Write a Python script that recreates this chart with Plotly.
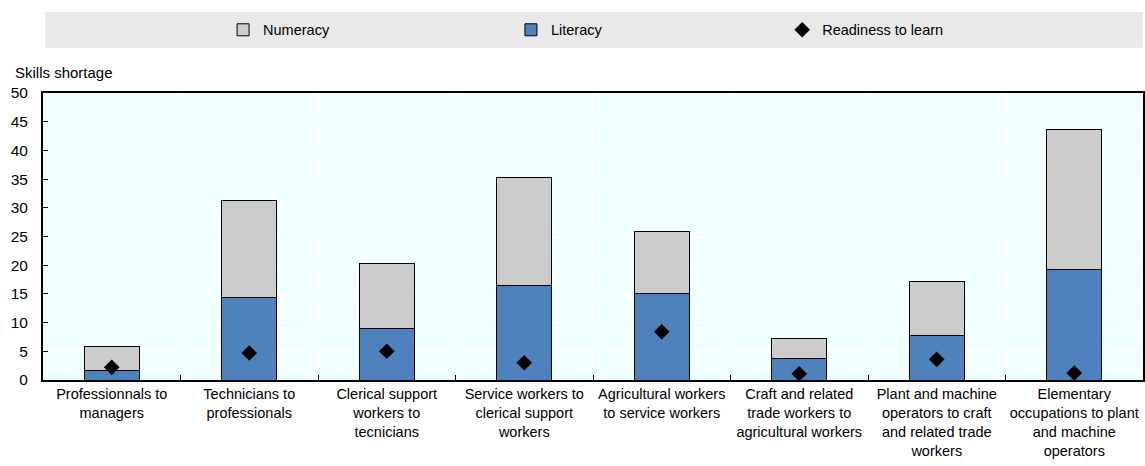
import plotly.graph_objects as go

categories = [
    "Professionnals to<br>managers",
    "Technicians to<br>professionals",
    "Clerical support<br>workers to<br>tecnicians",
    "Service workers to<br>clerical support<br>workers",
    "Agricultural workers<br>to service workers",
    "Craft and related<br>trade workers to<br>agricultural workers",
    "Plant and machine<br>operators to craft<br>and related trade<br>workers",
    "Elementary<br>occupations to plant<br>and machine<br>operators",
]
literacy = [1.6, 14.3, 9.0, 16.5, 15.1, 3.7, 7.7, 19.3]
numeracy = [4.3, 16.9, 11.3, 18.7, 10.8, 3.5, 9.5, 24.4]
readiness = [2.2, 4.7, 5.0, 3.0, 8.4, 1.1, 3.6, 1.2]
y_ticks = [0, 5, 10, 15, 20, 25, 30, 35, 40, 45, 50]

FONT = "Liberation Sans, Arial, sans-serif"
FS = 14

fig = go.Figure()
fig.add_trace(go.Bar(
    x=categories, y=literacy, name="Literacy", legend="legend2",
    marker=dict(color="#4F81BD", line=dict(color="#000000", width=1)),
    width=0.4,
))
fig.add_trace(go.Bar(
    x=categories, y=numeracy, name="Numeracy", legend="legend",
    marker=dict(color="#CCCCCC", line=dict(color="#000000", width=1)),
    width=0.4,
))
fig.add_trace(go.Scatter(
    x=categories, y=readiness, name="Readiness to learn", legend="legend3",
    mode="markers",
    marker=dict(symbol="diamond", color="#000000", size=12),
))

def leg(x):
    return dict(
        orientation="h", x=x, xanchor="left", y=1.22, yanchor="middle",
        bgcolor="rgba(0,0,0,0)", font=dict(size=FS + 0.5),
    )

fig.update_layout(
    width=1145, height=466,
    margin=dict(l=43, r=2, t=93, b=86, autoexpand=False),
    barmode="stack",
    paper_bgcolor="#FFFFFF",
    plot_bgcolor="#F0FFFF",
    font=dict(family=FONT, size=FS, color="#000000"),
    showlegend=True,
    legend=leg(0.1637),
    legend2=leg(0.4254),
    legend3=leg(0.672),
    shapes=[dict(
        type="rect", xref="paper", yref="paper",
        x0=0.002, x1=1.0, y0=1.158, y1=1.282,
        fillcolor="#E9E9E9", line=dict(width=0), layer="below",
    )],
    annotations=[dict(
        text="Skills shortage", xref="paper", yref="paper",
        x=-0.027, y=1.035, xanchor="left", yanchor="bottom",
        showarrow=False, font=dict(size=15),
    )],
)

fig.update_xaxes(
    showline=True, linecolor="#000000", linewidth=2, mirror=True,
    showgrid=True, gridcolor="#FFFFFF", gridwidth=2,
    tickson="boundaries", ticks="inside", ticklen=5, tickcolor="#000000",
    tickangle=0, tickfont=dict(size=FS + 0.5),
)
fig.update_yaxes(
    range=[0, 50], tickvals=y_ticks,
    showline=True, linecolor="#000000", linewidth=2, mirror=True,
    showgrid=True, gridcolor="#FFFFFF", gridwidth=2,
    ticks="inside", ticklen=5, tickcolor="#000000",
    ticklabelstandoff=10,
    zeroline=False, tickfont=dict(size=FS + 1.5),
)

fig.write_html(
    "out.html",
    config={"displayModeBar": False},
    post_script="document.body.style.margin='0';document.body.style.overflow='hidden';",
)
